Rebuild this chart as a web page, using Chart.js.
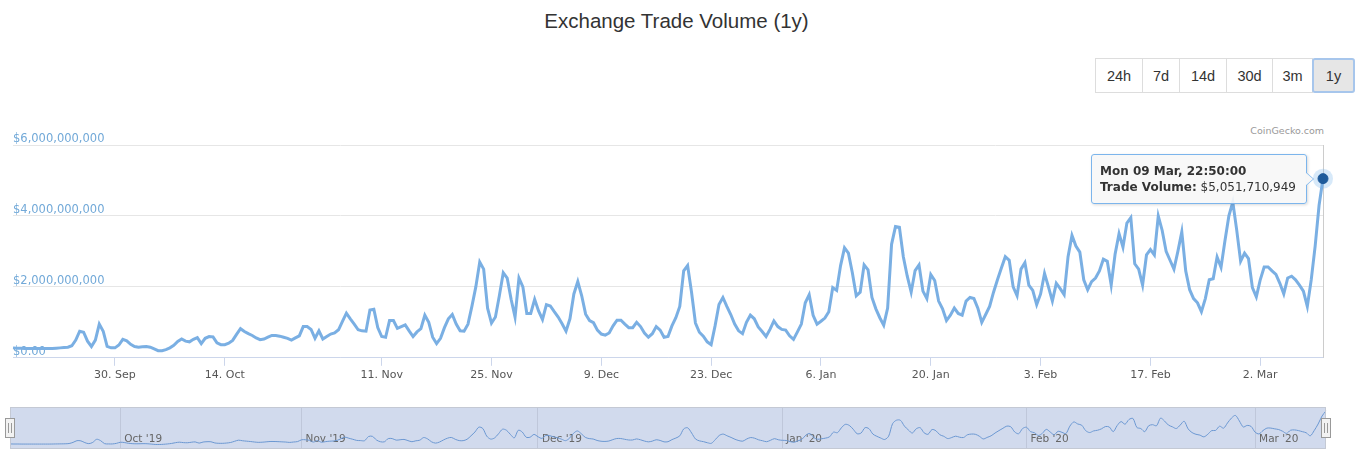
<!DOCTYPE html>
<html lang="en">
<head>
  <meta charset="UTF-8">
  <title>Exchange Trade Volume (1y)</title>
  <script src="https://cdn.jsdelivr.net/npm/chart.js"></script>
  <style>
    body {
      margin: 0;
      background: #fff;
      font-family: "DejaVu Sans", sans-serif;
    }
    #wrap {
      position: relative;
      width: 1364px;
      height: 460px;
      overflow: hidden;
    }
    #title {
      position: absolute;
      top: 8px;
      left: 0;
      width: 1353px;
      text-align: center;
      font-family: "Liberation Sans", Arial, sans-serif;
      font-size: 20.5px;
      line-height: 26px;
      color: #333;
    }
    #ranges {
      position: absolute;
      left: 1096px;
      top: 58px;
      display: flex;
    }
    #ranges button {
      box-sizing: border-box;
      height: 35px;
      margin-left: -1px;
      padding: 0;
      border: 1px solid #dddddd;
      background: #fff;
      color: #333;
      font: 14.5px "Liberation Sans", Arial, sans-serif;
    }
    #ranges button.on {
      background: #e6e6e6;
      border: 2px solid #a7c6ec;
      border-radius: 3px;
    }
    #credit {
      position: absolute;
      right: 40px;
      top: 125px;
      font-size: 9.5px;
      color: #999;
    }
    #mainBox {
      position: absolute;
      left: 0;
      top: 100px;
      width: 1364px;
      height: 290px;
    }
    #navBox {
      position: absolute;
      left: 0;
      top: 400px;
      width: 1364px;
      height: 60px;
    }
    #tip {
      position: absolute;
      padding: 8px 10px 8px 8px;
      background: rgba(247, 247, 247, 0.9);
      border: 1px solid #7cb5ec;
      border-radius: 3px;
      box-shadow: 1px 1px 3px rgba(0, 0, 0, 0.15);
      font-size: 12px;
      line-height: 16px;
      color: #333;
      white-space: nowrap;
    }
    #tip:before, #tip:after {
      content: "";
      position: absolute;
      top: 50%;
      width: 0;
      height: 0;
      border-top: 7px solid transparent;
      border-bottom: 7px solid transparent;
      margin-top: -7px;
    }
    #tip:before {
      right: -8px;
      border-left: 8px solid #7cb5ec;
    }
    #tip:after {
      right: -7px;
      border-left: 8px solid #f7f7f7;
    }
  </style>
</head>
<body>
<div id="wrap">
  <div id="title">Exchange Trade Volume (1y)</div>
  <div id="ranges">
    <button style="width:48px">24h</button>
    <button style="width:38px">7d</button>
    <button style="width:48px">14d</button>
    <button style="width:47px">30d</button>
    <button style="width:41px">3m</button>
    <button class="on" style="width:43px">1y</button>
  </div>
  <div id="credit">CoinGecko.com</div>
  <div id="mainBox"><canvas id="main"></canvas></div>
  <div id="navBox"><canvas id="nav"></canvas></div>
  <div id="tip"></div>
</div>

<script>
  // data is sampled twice a day, there is no data between 22 and 29 Oct
  const rangeStarts = ['2019-09-17', '2019-10-30'];
  const rangeEnds = ['2019-10-21', '2020-03-09'];
  const lastStamp = '2020-03-09 22:50';

  // trade volume in billions of USD
  const volumeBn = [
    0.28, 0.27, 0.27, 0.26, 0.26, 0.26, 0.26, 0.26, 0.26, 0.26,
    0.26, 0.27, 0.28, 0.29, 0.30, 0.34, 0.50, 0.75, 0.72, 0.47,
    0.32, 0.50, 0.95, 0.75, 0.32, 0.28, 0.28, 0.36, 0.52, 0.48,
    0.38, 0.32, 0.30, 0.31, 0.32, 0.30, 0.25, 0.20, 0.20, 0.23,
    0.28, 0.35, 0.46, 0.53, 0.47, 0.45, 0.52, 0.57, 0.40, 0.55,
    0.60, 0.59, 0.42, 0.37, 0.37, 0.41, 0.49, 0.66, 0.82, 0.74,
    0.68, 0.63, 0.56, 0.51, 0.53, 0.58, 0.63, 0.63, 0.61, 0.58,
    0.55, 0.50, 0.56, 0.62, 0.88, 0.88, 0.80, 0.55, 0.76, 0.53,
    0.60, 0.67, 0.70, 0.79, 1.03, 1.26, 1.10, 0.95, 0.79, 0.76,
    0.75, 1.35, 1.37, 0.85, 0.60, 0.58, 1.05, 1.05, 0.83, 0.88,
    0.93, 0.76, 0.60, 0.73, 0.82, 1.20, 1.00, 0.58, 0.40, 0.55,
    0.85, 1.10, 1.22, 0.95, 0.76, 0.75, 0.95, 1.45, 2.00, 2.70,
    2.50, 1.40, 0.98, 1.15, 1.75, 2.40, 2.25, 1.65, 1.15, 2.25,
    2.00, 1.25, 1.25, 1.65, 1.32, 1.08, 1.50, 1.46, 1.30, 1.15,
    0.96, 0.75, 1.10, 1.80, 2.15, 1.75, 1.23, 1.05, 0.99, 0.78,
    0.67, 0.64, 0.70, 0.90, 1.06, 1.06, 0.95, 0.85, 0.85, 1.00,
    0.88, 0.70, 0.58, 0.68, 0.88, 0.78, 0.58, 0.60, 0.90, 1.13,
    1.45, 2.45, 2.60, 1.85, 0.98, 0.72, 0.61, 0.45, 0.37, 0.90,
    1.50, 1.70, 1.45, 1.22, 0.95, 0.76, 0.68, 1.00, 1.20, 1.10,
    0.87, 0.74, 0.60, 0.80, 1.04, 0.88, 0.80, 0.78, 0.62, 0.52,
    0.73, 0.95, 1.55, 1.78, 1.20, 0.95, 1.03, 1.12, 1.30, 1.98,
    1.90, 2.60, 3.10, 2.95, 2.40, 1.75, 1.85, 2.62, 2.48, 1.70,
    1.38, 1.13, 0.92, 1.40, 3.20, 3.70, 3.68, 2.85, 2.30, 1.85,
    2.46, 2.62, 1.88, 1.67, 2.35, 2.18, 1.60, 1.38, 1.05, 1.20,
    1.40, 1.25, 1.20, 1.60, 1.70, 1.67, 1.40, 1.00, 1.22, 1.45,
    1.85, 2.20, 2.53, 2.85, 2.75, 2.00, 1.75, 2.50, 2.68, 2.05,
    1.90, 1.50, 1.80, 2.38, 2.00, 1.60, 2.10, 1.95, 1.78, 2.85,
    3.45, 3.15, 2.98, 2.20, 1.92, 2.15, 2.25, 2.45, 2.78, 2.72,
    2.05, 2.93, 3.50, 3.12, 3.80, 3.95, 2.65, 2.50, 2.05, 2.90,
    3.05, 2.90, 4.00, 3.59, 3.00, 2.75, 2.50, 3.00, 3.55, 2.45,
    1.92, 1.67, 1.55, 1.30, 1.67, 2.20, 2.23, 2.84, 2.55, 3.30,
    4.00, 4.39, 3.60, 2.72, 2.95, 2.80, 1.98, 1.72, 2.20, 2.56,
    2.56, 2.45, 2.35, 2.10, 1.80, 2.25, 2.30, 2.20, 2.05, 1.88,
    1.45, 2.20, 3.15, 4.30, 5.051710949
  ];

  const yTicks = [0, 2, 4, 6];
  const xTickDays = ['2019-09-30', '2019-10-14', '2019-11-11', '2019-11-25', '2019-12-09', '2019-12-23',
                     '2020-01-06', '2020-01-20', '2020-02-03', '2020-02-17', '2020-03-02'];
  const xTickLabels = ['30. Sep', '14. Oct', '11. Nov', '25. Nov', '9. Dec', '23. Dec',
                       '6. Jan', '20. Jan', '3. Feb', '17. Feb', '2. Mar'];
  const navMonthDays = ['2019-10-01', '2019-11-01', '2019-12-01', '2020-01-01', '2020-02-01', '2020-03-01'];
  const navMonthLabels = ["Oct '19", "Nov '19", "Dec '19", "Jan '20", "Feb '20", "Mar '20"];

  // category labels, two per day
  const labels = [];
  rangeStarts.forEach((start, r) => {
    let t = Date.parse(start + 'T00:00:00Z');
    const end = Date.parse(rangeEnds[r] + 'T12:00:00Z');
    while (t <= end) {
      labels.push(new Date(t).toISOString().slice(0, 16).replace('T', ' '));
      t += 12 * 3600 * 1000;
    }
  });
  labels.push(lastStamp);

  const hoverIdx = labels.length - 1;
  const lineColor = '#7aafe3';

  function money(v) {
    if (v === 0) return '$0.00';
    return '$' + Math.round(v * 1e9).toLocaleString('en-US');
  }

  function tipDate(stamp) {
    const d = new Date(stamp.replace(' ', 'T') + ':00Z');
    const days = ['Sun', 'Mon', 'Tue', 'Wed', 'Thu', 'Fri', 'Sat'];
    const months = ['Jan', 'Feb', 'Mar', 'Apr', 'May', 'Jun', 'Jul', 'Aug', 'Sep', 'Oct', 'Nov', 'Dec'];
    return days[d.getUTCDay()] + ' ' + stamp.slice(8, 10) + ' ' + months[d.getUTCMonth()] + ', ' + stamp.slice(11) + ':00';
  }

  // crosshair and halo behind the hovered point
  const hoverPlugin = {
    id: 'hover',
    beforeDatasetsDraw(chart) {
      const pt = chart.getDatasetMeta(0).data[hoverIdx];
      const ctx = chart.ctx;
      const area = chart.chartArea;
      ctx.save();
      ctx.strokeStyle = '#cccccc';
      ctx.lineWidth = 1;
      ctx.beginPath();
      ctx.moveTo(Math.round(pt.x) + 0.5, area.top);
      ctx.lineTo(Math.round(pt.x) + 0.5, area.bottom);
      ctx.stroke();
      ctx.fillStyle = 'rgba(124, 181, 236, 0.3)';
      ctx.beginPath();
      ctx.arc(pt.x, pt.y, 10, 0, Math.PI * 2);
      ctx.fill();
      ctx.restore();
    }
  };

  const mainChart = new Chart(document.getElementById('main'), {
    type: 'line',
    data: {
      labels: labels,
      datasets: [{
        data: volumeBn,
        borderColor: lineColor,
        borderWidth: 3,
        tension: 0,
        fill: false,
        pointRadius: ctx => ctx.dataIndex === hoverIdx ? 5 : 0,
        pointBackgroundColor: '#1f5b9b',
        pointBorderColor: '#1f5b9b',
        pointBorderWidth: 1
      }]
    },
    options: {
      animation: false,
      responsive: true,
      maintainAspectRatio: false,
      events: [],
      layout: { padding: { left: 13, right: 41, top: 45, bottom: 5 } },
      plugins: { legend: { display: false }, tooltip: { enabled: false } },
      scales: {
        x: {
          type: 'category',
          offset: false,
          afterBuildTicks: axis => {
            axis.ticks = axis.ticks.filter(t => xTickDays.some(d => labels[t.value] === d + ' 00:00'));
          },
          grid: { drawOnChartArea: false, drawTicks: true, tickLength: 8, tickColor: '#ccd6eb' },
          border: { display: true, color: '#ccd6eb' },
          ticks: {
            autoSkip: false,
            maxRotation: 0,
            padding: 3,
            color: '#555',
            font: { family: 'DejaVu Sans', size: 11 },
            callback: v => xTickLabels[xTickDays.indexOf(labels[v].slice(0, 10))]
          }
        },
        y: {
          min: 0,
          max: 6,
          afterBuildTicks: axis => { axis.ticks = yTicks.map(v => ({ value: v })); },
          grid: { color: '#e6e6e6', drawTicks: false },
          border: { display: false },
          ticks: {
            mirror: true,
            padding: 0,
            labelOffset: -6,
            color: '#72a9d8',
            font: { family: 'DejaVu Sans', size: 11.5 },
            callback: v => money(v)
          }
        }
      }
    },
    plugins: [hoverPlugin]
  });

  // navigator band and handles
  const navPlugin = {
    id: 'navBand',
    beforeDraw(chart) {
      const a = chart.chartArea;
      const ctx = chart.ctx;
      ctx.save();
      ctx.fillStyle = 'rgba(102, 133, 194, 0.3)';
      ctx.fillRect(a.left, a.top, a.right - a.left, a.bottom - a.top);
      ctx.restore();
    },
    afterDraw(chart) {
      const a = chart.chartArea;
      const ctx = chart.ctx;
      ctx.save();
      ctx.strokeStyle = '#c4c9d4';
      ctx.lineWidth = 1;
      ctx.strokeRect(a.left + 0.5, a.top + 0.5, a.right - a.left - 1, a.bottom - a.top - 1);
      const mid = Math.round((a.top + a.bottom) / 2);
      [a.left, a.right].forEach(x => {
        x = Math.round(x);
        ctx.fillStyle = '#f2f2f2';
        ctx.strokeStyle = '#999';
        ctx.fillRect(x - 4, mid - 9, 8, 18);
        ctx.strokeRect(x - 4.5, mid - 9.5, 9, 19);
        ctx.beginPath();
        ctx.moveTo(x - 1.5, mid - 5); ctx.lineTo(x - 1.5, mid + 5);
        ctx.moveTo(x + 1.5, mid - 5); ctx.lineTo(x + 1.5, mid + 5);
        ctx.stroke();
      });
      ctx.restore();
    }
  };

  new Chart(document.getElementById('nav'), {
    type: 'line',
    data: {
      labels: labels,
      datasets: [{
        data: volumeBn,
        borderColor: '#6c98d2',
        borderWidth: 1,
        tension: 0.3,
        pointRadius: 0,
        fill: false
      }]
    },
    options: {
      animation: false,
      responsive: true,
      maintainAspectRatio: false,
      events: [],
      layout: { padding: { left: 10, right: 38, top: 7, bottom: 5 } },
      plugins: { legend: { display: false }, tooltip: { enabled: false } },
      scales: {
        x: {
          type: 'category',
          offset: false,
          afterBuildTicks: axis => {
            axis.ticks = axis.ticks.filter(t => navMonthDays.some(d => labels[t.value] === d + ' 00:00'));
          },
          grid: { drawOnChartArea: true, drawTicks: false, color: '#bfc7da' },
          border: { display: false },
          ticks: {
            autoSkip: false,
            maxRotation: 0,
            mirror: true,
            align: 'start',
            padding: 3,
            labelOffset: 4,
            color: '#666',
            font: { family: 'DejaVu Sans', size: 10.5 },
            callback: v => navMonthLabels[navMonthDays.indexOf(labels[v].slice(0, 10))]
          }
        },
        y: { display: false, min: -0.45, max: 5.6 }
      }
    },
    plugins: [navPlugin]
  });

  // tooltip box for the hovered point
  const tip = document.getElementById('tip');
  tip.innerHTML = '<b>' + tipDate(labels[hoverIdx]) + '</b><br><b>Trade Volume:</b> ' + money(volumeBn[hoverIdx]);
  const pt = mainChart.getDatasetMeta(0).data[hoverIdx];
  const boxTop = document.getElementById('mainBox').offsetTop;
  tip.style.left = (pt.x - 16 - tip.offsetWidth) + 'px';
  tip.style.top = (boxTop + pt.y - tip.offsetHeight / 2) + 'px';
</script>
</body>
</html>
